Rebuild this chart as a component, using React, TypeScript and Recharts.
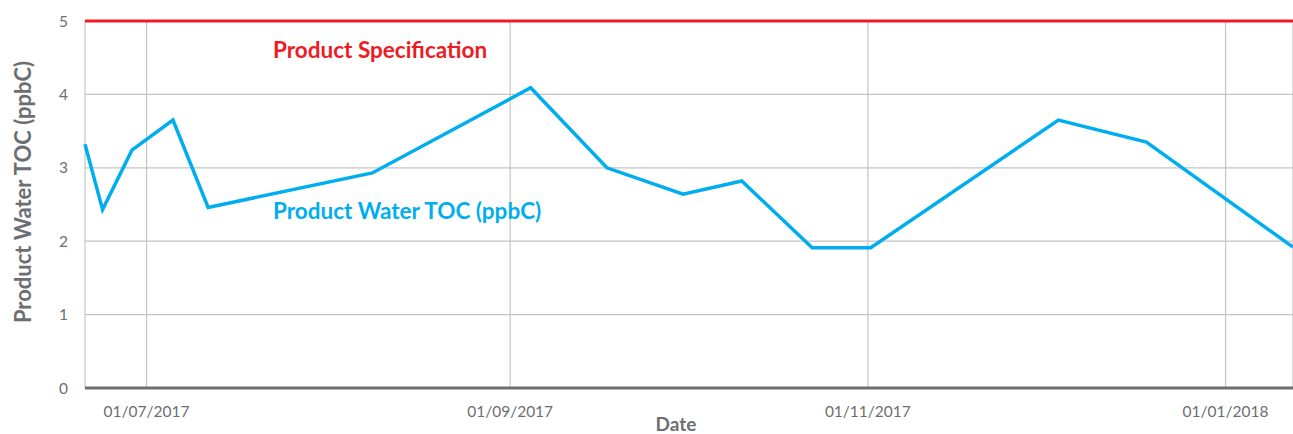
import { LineChart, Line, XAxis, YAxis, CartesianGrid, ReferenceLine, Label } from "recharts";

// sample dates (dd) and product water TOC in ppbC
const sampleDates = [
  "2017-06-20", "2017-06-23", "2017-06-28", "2017-07-05", "2017-07-11",
  "2017-08-08", "2017-09-04", "2017-09-17", "2017-09-30", "2017-10-10",
  "2017-10-22", "2017-11-01", "2017-12-03", "2017-12-18", "2018-01-12",
];
const tocValues = [3.32, 2.43, 3.24, 3.65, 2.46, 2.93, 4.09, 3.0, 2.64, 2.82, 1.91, 1.91, 3.65, 3.35, 1.92];
const productSpec = 5;
const dateTicks = ["2017-07-01", "2017-09-01", "2017-11-01", "2018-01-01"];
const tocTicks = [0, 1, 2, 3, 4, 5];

const GREY = "#6d6e71";
const BLUE = "#00aeef";
const RED = "#ed1c24";
const FONT = "Lato, 'Open Sans', sans-serif";

function toTime(s: string, hour = 0) {
  const [y, m, d] = s.split("-").map(Number);
  return Date.UTC(y, m - 1, d, hour);
}

const pad = (n: number) => String(n).padStart(2, "0");
function fmtDate(t: number) {
  const d = new Date(t);
  return `${pad(d.getUTCDate())}/${pad(d.getUTCMonth() + 1)}/${d.getUTCFullYear()}`;
}

const data = sampleDates.map((d, i) => ({ t: toTime(d, 12), toc: tocValues[i] }));

function YTitle() {
  return (
    <text
      x={22}
      y={192}
      transform="rotate(-90, 22, 192)"
      textAnchor="middle"
      dominantBaseline="central"
      fill={GREY}
      fontSize={22}
      fontWeight={700}
      fontFamily={FONT}
    >
      Product Water TOC (ppbC)
    </text>
  );
}

function XTitle() {
  return (
    <text x={676} y={431} textAnchor="middle" fill={GREY} fontSize={19} fontWeight={700} fontFamily={FONT}>
      Date
    </text>
  );
}

export default function App() {
  return (
    <div style={{ position: "absolute", left: 0, top: 0, width: 1293, height: 434, fontFamily: FONT, overflow: "hidden" }}>
      <LineChart width={1293} height={434} data={data} margin={{ top: 21, right: 0, bottom: 0, left: 0 }}>
        <CartesianGrid stroke="#c4c4c6" strokeWidth={1.2} />
        <XAxis
          dataKey="t"
          type="number"
          scale="time"
          domain={["dataMin", "dataMax"]}
          ticks={dateTicks.map((d) => toTime(d))}
          tickFormatter={fmtDate}
          height={46}
          tickSize={0}
          tickMargin={18}
          tick={{ fontSize: 15.5, fill: GREY, fontFamily: FONT }}
          axisLine={{ stroke: GREY, strokeWidth: 3 }}
        >
          <Label content={<XTitle />} />
        </XAxis>
        <YAxis
          domain={[0, 5]}
          ticks={tocTicks}
          width={85}
          tickSize={0}
          tickMargin={17}
          axisLine={false}
          tick={{ fontSize: 15.5, fill: GREY, fontFamily: FONT }}
        >
          <Label content={<YTitle />} />
        </YAxis>
        <ReferenceLine y={productSpec} stroke={RED} strokeWidth={3} />
        <Line
          type="linear"
          dataKey="toc"
          stroke={BLUE}
          strokeWidth={3.5}
          dot={false}
          isAnimationActive={false}
        />
      </LineChart>
      <div style={{ position: "absolute", left: 273, top: 36, color: RED, fontSize: 22.5, fontWeight: 700, whiteSpace: "nowrap" }}>
        Product Specification
      </div>
      <div style={{ position: "absolute", left: 273, top: 197, color: BLUE, fontSize: 22.5, fontWeight: 700, whiteSpace: "nowrap" }}>
        Product Water TOC (ppbC)
      </div>
    </div>
  );
}
